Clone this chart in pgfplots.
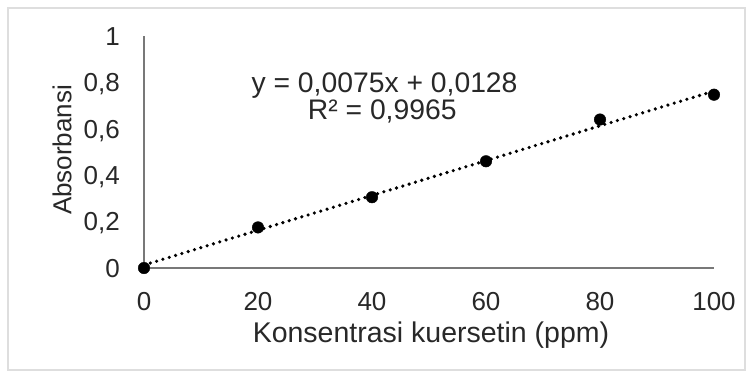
\documentclass[border=0pt]{standalone}
\usepackage{pgfplots}
\pgfplotsset{compat=1.18}
\usepackage{fontspec}
\setmainfont{Liberation Sans}
\definecolor{txt}{RGB}{40,40,40}
\definecolor{axl}{RGB}{120,120,120}
\definecolor{frm}{RGB}{222,222,222}
\begin{document}
\begin{tikzpicture}
\useasboundingbox (0,0) rectangle (753pt,376pt);
\fill[white] (0,0) rectangle (753pt,376pt);
\draw[frm, line width=1.2pt] (8pt,6pt) rectangle (745pt,368pt);
\begin{axis}[
  at={(144pt,108pt)}, anchor=south west,
  scale only axis, width=570pt, height=232pt,
  xmin=0, xmax=100, ymin=0, ymax=1,
  clip=false,
  axis x line=bottom, axis y line=left,
  axis line style={-, axl, line width=1.8pt},
  major tick length=0pt,
  xtick={0,20,40,60,80,100},
  ytick={0,0.2,0.4,0.6,0.8,1},
  yticklabels={0,{0,2},{0,4},{0,6},{0,8},1},
  /pgf/number format/assume math mode=true,
  tick label style={font=\fontsize{26}{30}\selectfont, text=txt, inner sep=0pt},
  xticklabel style={anchor=north, yshift=-24pt},
  yticklabel style={anchor=base east, xshift=-24pt, yshift=-9.3pt},
  xlabel={Konsentrasi kuersetin (ppm)},
  ylabel={Absorbansi},
  every axis x label/.style={at={(axis description cs:0.5035,-0.319)}, anchor=base, inner sep=0pt, font=\fontsize{28.5}{32}\selectfont, text=txt},
  every axis y label/.style={at={(axis description cs:-0.1439,0.509)}, anchor=center, rotate=90, font=\fontsize{26}{30}\selectfont, text=txt},
]
\addplot[black, line width=3.6pt, line cap=round, dash pattern=on 0pt off 6.6pt] coordinates {(0,0.0128) (100,0.7628)};
\addplot[only marks, mark=*, mark size=5.8pt, mark options={fill=black, draw=black}] coordinates {
  (0,0) (20,0.175) (40,0.305) (60,0.46) (80,0.64) (100,0.747)
};
\node[font=\fontsize{28.3}{32}\selectfont, text=txt, anchor=base, inner sep=0pt] at (axis cs:42.2,0.7586) {y = 0,0075x + 0,0128};
\node[font=\fontsize{28.3}{32}\selectfont, text=txt, anchor=base, inner sep=0pt] at (axis cs:41.8,0.638) {R² = 0,9965};
\end{axis}
\end{tikzpicture}
\end{document}
